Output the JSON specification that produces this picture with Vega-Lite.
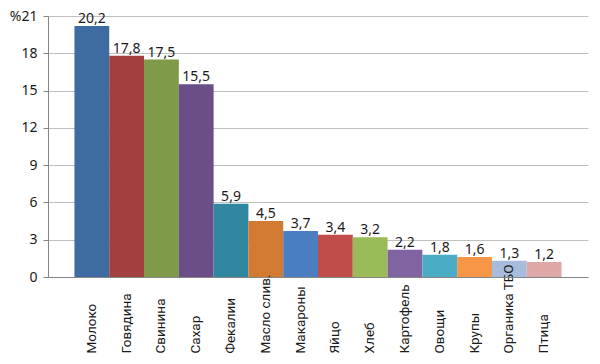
{
  "$schema": "https://vega.github.io/schema/vega-lite/v6.json",
  "width": 540,
  "height": 261,
  "autosize": {"type": "none"},
  "padding": {"left": 48, "top": 16, "right": 12, "bottom": 87},
  "background": "white",
  "config": {
    "locale": {"number": {"decimal": ",", "thousands": " ", "grouping": [3], "currency": ["", ""]}},
    "font": "Noto Sans",
    "view": {"stroke": null}
  },
  "data": {
    "values": [
      {"name": "Молоко", "value": 20.2, "color": "#3E6BA2"},
      {"name": "Говядина", "value": 17.8, "color": "#A2403E"},
      {"name": "Свинина", "value": 17.5, "color": "#7F9A48"},
      {"name": "Сахар", "value": 15.5, "color": "#694E88"},
      {"name": "Фекалии", "value": 5.9, "color": "#3187A0"},
      {"name": "Масло слив.", "value": 4.5, "color": "#D27A32"},
      {"name": "Макароны", "value": 3.7, "color": "#4A7EC0"},
      {"name": "Яйцо", "value": 3.4, "color": "#C04D4A"},
      {"name": "Хлеб", "value": 3.2, "color": "#9BBB59"},
      {"name": "Картофель", "value": 2.2, "color": "#8064A2"},
      {"name": "Овощи", "value": 1.8, "color": "#4BACC6"},
      {"name": "Крупы", "value": 1.6, "color": "#F79646"},
      {"name": "Органика ТБО", "value": 1.3, "color": "#A7BCDC"},
      {"name": "Птица", "value": 1.2, "color": "#DDA8A7"}
    ]
  },
  "encoding": {
    "x": {
      "field": "name",
      "type": "nominal",
      "sort": null,
      "scale": {"paddingInner": 0, "paddingOuter": 0.76},
      "axis": {
        "title": null,
        "zindex": 1,
        "labelAngle": -90,
        "labelAlign": "left",
        "labelBaseline": "middle",
        "labelPadding": 76,
        "labelLimit": 0,
        "labelFont": "Roboto",
        "labelFontSize": 13.5,
        "labelColor": "#1a1a1a",
        "ticks": false,
        "domainColor": "#868686"
      }
    },
    "y": {
      "field": "value",
      "type": "quantitative",
      "scale": {"domain": [0, 21], "nice": false},
      "axis": {
        "title": null,
        "values": [0, 3, 6, 9, 12, 15, 18, 21],
        "labelExpr": "datum.value == 21 ? '%21' : datum.label",
        "labelFontSize": 14,
        "labelColor": "#1a1a1a",
        "labelPadding": 6,
        "tickSize": 5,
        "tickColor": "#868686",
        "domainColor": "#868686",
        "gridColor": "#C0C0C0"
      }
    }
  },
  "layer": [
    {
      "mark": {"type": "bar"},
      "encoding": {
        "color": {"field": "color", "type": "nominal", "scale": null, "legend": null}
      }
    },
    {
      "mark": {"type": "text", "baseline": "bottom", "dy": 0, "fontSize": 14, "color": "#1a1a1a"},
      "encoding": {
        "text": {"field": "value", "type": "quantitative", "format": ".1f"}
      }
    }
  ]
}
